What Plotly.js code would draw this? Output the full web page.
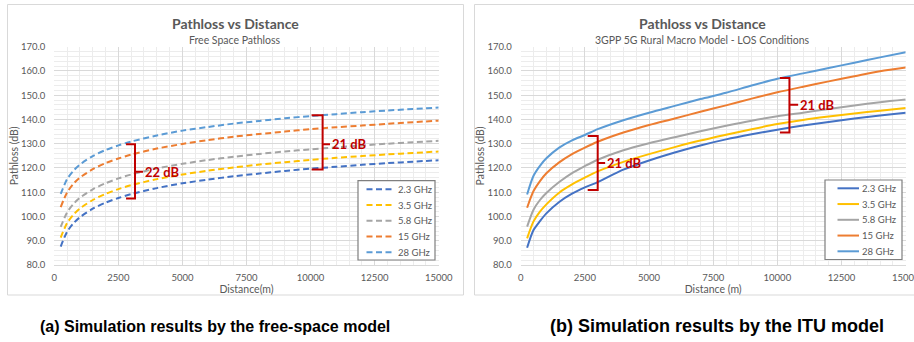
<!DOCTYPE html>
<html>
<head>
<meta charset="utf-8">
<script src="https://cdn.plot.ly/plotly-3.0.1.min.js"></script>
<style>
  html, body { margin: 0; padding: 0; background: #ffffff; }
  #chart { width: 914px; height: 342px; }
</style>
</head>
<body>
<div id="chart"></div>
<script>
// ---------------- data ----------------
const distance_m = [250, 500, 750, 1000, 1500, 2000, 2500, 3000, 4000, 5000, 6000, 7000, 8000, 9000, 10000, 11000, 12000, 13000, 14000, 15000];
const series_names = ["2.3 GHz", "3.5 GHz", "5.8 GHz", "15 GHz", "28 GHz"];

// (a) free-space model, pathloss in dB
const fs_2_3 = [87.6, 93.7, 97.2, 99.7, 103.2, 105.7, 107.6, 109.2, 111.7, 113.7, 115.2, 116.6, 117.7, 118.8, 119.7, 120.5, 121.3, 122.0, 122.6, 123.2];
const fs_3_5 = [91.3, 97.3, 100.8, 103.3, 106.8, 109.3, 111.3, 112.9, 115.4, 117.3, 118.9, 120.2, 121.4, 122.4, 123.3, 124.2, 124.9, 125.6, 126.2, 126.8];
const fs_5_8 = [95.7, 101.7, 105.2, 107.7, 111.2, 113.7, 115.7, 117.3, 119.8, 121.7, 123.3, 124.6, 125.8, 126.8, 127.7, 128.5, 129.3, 130.0, 130.6, 131.2];
const fs_15  = [103.9, 109.9, 113.5, 116.0, 119.5, 122.0, 123.9, 125.5, 128.0, 129.9, 131.5, 132.9, 134.0, 135.0, 136.0, 136.8, 137.5, 138.2, 138.9, 139.5];
const fs_28  = [109.3, 115.4, 118.9, 121.4, 124.9, 127.4, 129.3, 130.9, 133.4, 135.4, 136.9, 138.3, 139.4, 140.5, 141.4, 142.2, 143.0, 143.7, 144.3, 144.9];

// (b) ITU / 3GPP RMa LOS model, pathloss in dB
const itu_2_3 = [87.1, 94.4, 98.1, 101.3, 106.0, 109.4, 112.0, 114.2, 119.3, 123.1, 126.4, 129.3, 131.8, 133.9, 135.8, 137.5, 139.0, 140.4, 141.6, 142.8];
const itu_3_5 = [91.0, 98.0, 102.0, 105.0, 109.8, 113.2, 116.0, 118.6, 122.5, 125.7, 128.6, 131.3, 133.7, 136.0, 138.1, 139.8, 141.2, 142.5, 143.6, 144.7];
const itu_5_8 = [95.8, 102.8, 106.8, 109.7, 114.2, 117.9, 120.8, 123.4, 127.3, 130.2, 132.7, 135.1, 137.4, 139.5, 141.3, 142.8, 144.3, 145.8, 147.1, 148.2];
const itu_15  = [103.6, 110.5, 114.6, 117.8, 122.3, 125.7, 128.4, 130.8, 134.6, 137.7, 140.4, 143.2, 145.8, 148.6, 151.2, 153.5, 155.7, 157.8, 159.9, 161.4];
const itu_28  = [109.1, 116.8, 120.9, 124.0, 128.4, 131.4, 133.6, 136.0, 139.7, 142.8, 145.6, 148.4, 151.0, 154.0, 156.8, 159.0, 161.2, 163.4, 165.6, 167.7];

const x_tick_vals = [0, 2500, 5000, 7500, 10000, 12500, 15000];
const y_tick_vals = [80, 90, 100, 110, 120, 130, 140, 150, 160, 170];

// gap brackets: [distance left, distance spine, distance notch, top dB, bottom dB, mid dB, label]
const gaps_fs  = [[2800, 3150, 3460, 129.8, 107.4, 118.4, "22 dB"], [10040, 10470, 10760, 141.7, 119.4, 129.8, "21 dB"]];
const gaps_itu = [[2610, 3000, 3290, 133.2, 110.9, 122.1, "21 dB"], [10100, 10470, 10810, 157.1, 134.6, 146.1, "21 dB"]];

// ---------------- styling ----------------
const colors = ["#4472C4", "#FFC000", "#A5A5A5", "#ED7D31", "#5B9BD5"];
const W = 914, H = 342;
const PX = p => p / W;
const PY = p => 1 - p / H;
const GRAY = "#595959";
const FONT = "Lato, 'Noto Sans', sans-serif";
const CAPFONT = "'Liberation Sans', Arial, sans-serif";

const fsSeries = [fs_2_3, fs_3_5, fs_5_8, fs_15, fs_28];
const ituSeries = [itu_2_3, itu_3_5, itu_5_8, itu_15, itu_28];

const traces = [];
fsSeries.forEach((ys, i) => traces.push({
  type: "scatter", mode: "lines", x: distance_m, y: ys, name: series_names[i],
  xaxis: "x", yaxis: "y", showlegend: false, hoverinfo: "skip",
  line: { color: colors[i], width: 2, dash: "6px,3.5px", shape: "spline", smoothing: 0.8 }
}));
ituSeries.forEach((ys, i) => traces.push({
  type: "scatter", mode: "lines", x: distance_m, y: ys, name: series_names[i],
  xaxis: "x2", yaxis: "y2", showlegend: false, hoverinfo: "skip",
  line: { color: colors[i], width: 2, shape: "spline", smoothing: 0.8 }
}));

function xAxis(domain, title, anchor) {
  return {
    domain: domain, anchor: anchor, range: [0, 15000], tickvals: x_tick_vals,
    ticktext: x_tick_vals.map(String), showgrid: true, gridcolor: "#D9D9D9", gridwidth: 1,
    minor: { dtick: 500, tick0: 0, showgrid: true, gridcolor: "#ECECEC", gridwidth: 1, ticks: "" },
    zeroline: false, showline: true, linecolor: "#D9D9D9", linewidth: 1, ticks: "",
    ticklabelstandoff: 4,
    tickfont: { family: FONT, size: 9.5, color: GRAY },
    title: { text: title, font: { family: FONT, size: 10.5, color: GRAY }, standoff: 3 },
    fixedrange: true
  };
}
function yAxis(domain, anchor) {
  return {
    domain: domain, anchor: anchor, range: [80, 170], tickvals: y_tick_vals,
    tickformat: ".1f", showgrid: true, gridcolor: "#D9D9D9", gridwidth: 1,
    minor: { dtick: 2, tick0: 80, showgrid: true, gridcolor: "#ECECEC", gridwidth: 1, ticks: "" },
    zeroline: false, showline: false, ticks: "", ticklabelstandoff: 8,
    tickfont: { family: FONT, size: 9.5, color: GRAY },
    title: { text: "Pathloss (dB)", font: { family: FONT, size: 10.5, color: GRAY }, standoff: 0 },
    fixedrange: true
  };
}

const yDom = [PY(265), PY(46.7)];
const shapes = [];
const annotations = [];

// chart-area frames
shapes.push({ type: "rect", xref: "paper", yref: "paper", x0: PX(7.5), x1: PX(463.5), y0: PY(295), y1: PY(4.5),
  line: { color: "#D9D9D9", width: 1 }, fillcolor: "rgba(0,0,0,0)", layer: "below" });
shapes.push({ type: "rect", xref: "paper", yref: "paper", x0: PX(474.5), x1: 1.05, y0: PY(295), y1: PY(4.5),
  line: { color: "#D9D9D9", width: 1 }, fillcolor: "rgba(0,0,0,0)", layer: "below" });

// gap brackets
function addGaps(gaps, xr, yr) {
  gaps.forEach(g => {
    const [xl, xs, xn, yt, yb, ym, label] = g;
    shapes.push({ type: "path", xref: xr, yref: yr,
      path: `M ${xl},${yt} L ${xs},${yt} L ${xs},${yb} L ${xl},${yb} M ${xs},${ym} L ${xn},${ym}`,
      line: { color: "#C00000", width: 2 } });
    annotations.push({ xref: xr, yref: yr, x: xn, y: ym, text: "<b>" + label + "</b>", showarrow: false,
      xanchor: "left", yanchor: "middle", xshift: 0,
      font: { family: FONT, size: 13, color: "#C00000" } });
  });
}
addGaps(gaps_fs, "x", "y");
addGaps(gaps_itu, "x2", "y2");

// legends (boxed, Excel style)
function addLegend(left, right, top, bottom, sx0, sx1, tx, rows, dash) {
  shapes.push({ type: "rect", xref: "paper", yref: "paper", x0: PX(left), x1: PX(right), y0: PY(bottom), y1: PY(top),
    line: { color: "#7F7F7F", width: 1.2 }, fillcolor: "#FFFFFF" });
  series_names.forEach((nm, i) => {
    const yy = rows[0] + i * rows[1];
    shapes.push({ type: "line", xref: "paper", yref: "paper", x0: PX(sx0), x1: PX(sx1), y0: PY(yy), y1: PY(yy),
      line: { color: colors[i], width: 2, dash: dash } });
    annotations.push({ xref: "paper", yref: "paper", x: PX(tx), y: PY(yy), text: nm, showarrow: false,
      xanchor: "left", yanchor: "middle", font: { family: FONT, size: 9.5, color: GRAY } });
  });
}
addLegend(358, 435, 180.7, 260, 366.5, 394.5, 396, [189.3, 15.75], "6px,3.5px");
addLegend(825, 902, 180, 259.5, 837.5, 859, 859.5, [188.3, 15.75], "solid");

// last x tick label of the right chart, cut by the window edge as in the original
annotations.push({ xref: "x2", yref: "paper", x: x_tick_vals[x_tick_vals.length - 1], y: PY(277.5),
  text: String(x_tick_vals[x_tick_vals.length - 1]), showarrow: false, xanchor: "center", yanchor: "middle",
  font: { family: FONT, size: 9.5, color: GRAY } });

// titles
function addTitle(cx, main, sub) {
  annotations.push({ xref: "paper", yref: "paper", x: PX(cx), y: PY(23), text: "<b>" + main + "</b>", showarrow: false,
    xanchor: "center", yanchor: "middle", font: { family: FONT, size: 14, color: GRAY } });
  annotations.push({ xref: "paper", yref: "paper", x: PX(cx), y: PY(40), text: sub, showarrow: false,
    xanchor: "center", yanchor: "middle", font: { family: FONT, size: 10.5, color: GRAY } });
}
addTitle(235, "Pathloss vs Distance", "Free Space Pathloss");
addTitle(702, "Pathloss vs Distance", "3GPP 5G Rural Macro Model - LOS Conditions");

// captions
annotations.push({ xref: "paper", yref: "paper", x: PX(215), y: PY(326), text: "<b>(a) Simulation results by the free-space model</b>",
  showarrow: false, xanchor: "center", yanchor: "middle", font: { family: CAPFONT, size: 16, color: "#000000" } });
annotations.push({ xref: "paper", yref: "paper", x: PX(717), y: PY(326), text: "<b>(b) Simulation results by the ITU model</b>",
  showarrow: false, xanchor: "center", yanchor: "middle", font: { family: CAPFONT, size: 18, color: "#000000" } });

const layout = {
  width: W, height: H, margin: { l: 0, r: 0, t: 0, b: 0, pad: 0 },
  paper_bgcolor: "#FFFFFF", plot_bgcolor: "#FFFFFF", showlegend: false,
  xaxis: xAxis([PX(54.3), PX(438.7)], "Distance(m)", "y"),
  yaxis: yAxis(yDom, "x"),
  xaxis2: xAxis([PX(520.7), PX(905.7)], "Distance (m)", "y2"),
  yaxis2: yAxis(yDom, "x2"),
  shapes: shapes, annotations: annotations
};

Plotly.newPlot("chart", traces, layout, { staticPlot: true, displayModeBar: false });
</script>
</body>
</html>
